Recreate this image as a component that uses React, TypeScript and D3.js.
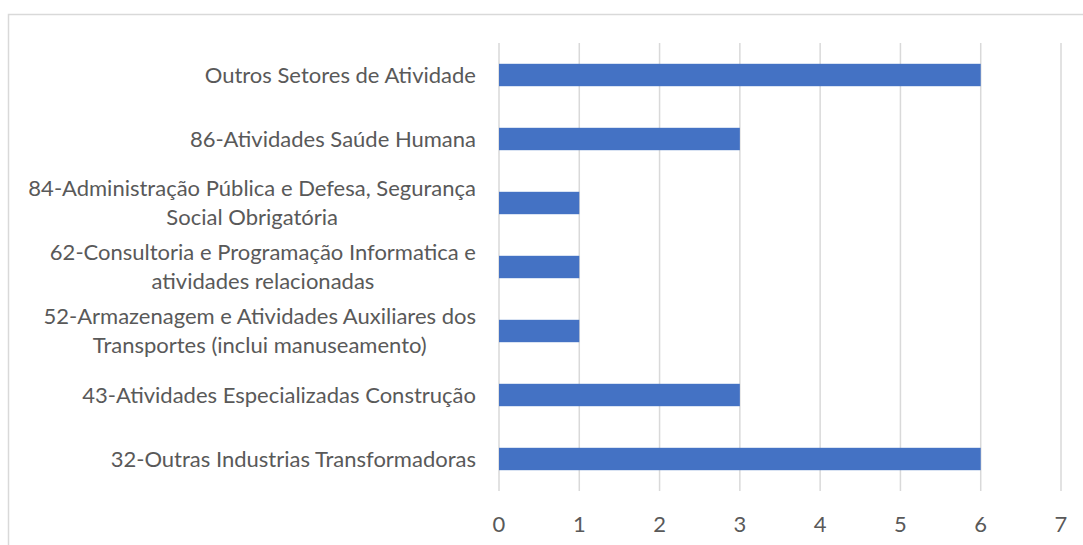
import React, { useEffect, useRef } from "react";
import * as d3 from "d3";

const categories: string[][] = [
  ["Outros Setores de Atividade"],
  ["86-Atividades Saúde Humana"],
  ["84-Administração Pública e Defesa, Segurança", "Social Obrigatória"],
  ["62-Consultoria e Programação Informatica e", "atividades relacionadas"],
  ["52-Armazenagem e Atividades Auxiliares dos", "Transportes (inclui manuseamento)"],
  ["43-Atividades Especializadas Construção"],
  ["32-Outras Industrias Transformadoras"],
];
const values: number[] = [6, 3, 1, 1, 1, 3, 6];
const xTicks: number[] = [0, 1, 2, 3, 4, 5, 6, 7];

const W = 1083;
const H = 545;
const FONT = "Lato, 'Open Sans', sans-serif";
const TEXT = "#595959";
const GRID = "#d9d9d9";
const BAR = "#4472c4";
const FS = 22;

export default function App() {
  const ref = useRef<SVGSVGElement>(null);
  useEffect(() => {
    const svg = d3.select(ref.current);
    svg.selectAll("*").remove();

    const x = d3.scaleLinear().domain([0, 7]).range([499, 1061]);
    const y = d3
      .scaleBand<number>()
      .domain(d3.range(categories.length))
      .range([43, 491])
      .paddingInner(0)
      .paddingOuter(0);
    const barH = y.bandwidth() * 0.35;

    // chart border
    svg
      .append("rect")
      .attr("x", 8.5)
      .attr("y", 14.5)
      .attr("width", W)
      .attr("height", H)
      .attr("fill", "white")
      .attr("stroke", GRID)
      .attr("stroke-width", 1.5);

    // gridlines
    svg
      .append("g")
      .selectAll("line")
      .data(xTicks)
      .join("line")
      .attr("x1", (d) => x(d))
      .attr("x2", (d) => x(d))
      .attr("y1", 43)
      .attr("y2", 491)
      .attr("stroke", GRID)
      .attr("stroke-width", 1.5);

    // bars
    svg
      .append("g")
      .selectAll("rect")
      .data(values)
      .join("rect")
      .attr("x", x(0))
      .attr("y", (_d, i) => (y(i) as number) + y.bandwidth() / 2 - barH / 2)
      .attr("width", (d) => x(d) - x(0))
      .attr("height", barH)
      .attr("fill", BAR);

    // x tick labels
    svg
      .append("g")
      .selectAll("text")
      .data(xTicks)
      .join("text")
      .attr("x", (d) => x(d))
      .attr("y", 524)
      .attr("dy", "0.35em")
      .attr("text-anchor", "middle")
      .attr("font-family", FONT)
      .attr("font-size", FS)
      .attr("fill", TEXT)
      .text((d) => String(d));

    // category labels
    const lineH = 28.5;
    const right = 476;
    categories.forEach((lines, i) => {
      const cy = (y(i) as number) + y.bandwidth() / 2;
      const g = svg.append("g");
      const texts = lines.map((l, j) =>
        g
          .append("text")
          .attr("y", cy + (j - (lines.length - 1) / 2) * lineH)
          .attr("dy", "0.35em")
          .attr("text-anchor", "middle")
          .attr("font-family", FONT)
          .attr("font-size", FS)
          .attr("fill", TEXT)
          .text(l)
      );
      const widths = texts.map((t) => (t.node() as SVGTextElement).getComputedTextLength());
      const maxW = Math.max(...widths);
      texts.forEach((t) => t.attr("x", right - maxW / 2));
    });
  }, []);
  return (
    <svg
      ref={ref}
      width={W}
      height={H}
      style={{ position: "absolute", left: 0, top: 0, background: "white" }}
    />
  );
}
